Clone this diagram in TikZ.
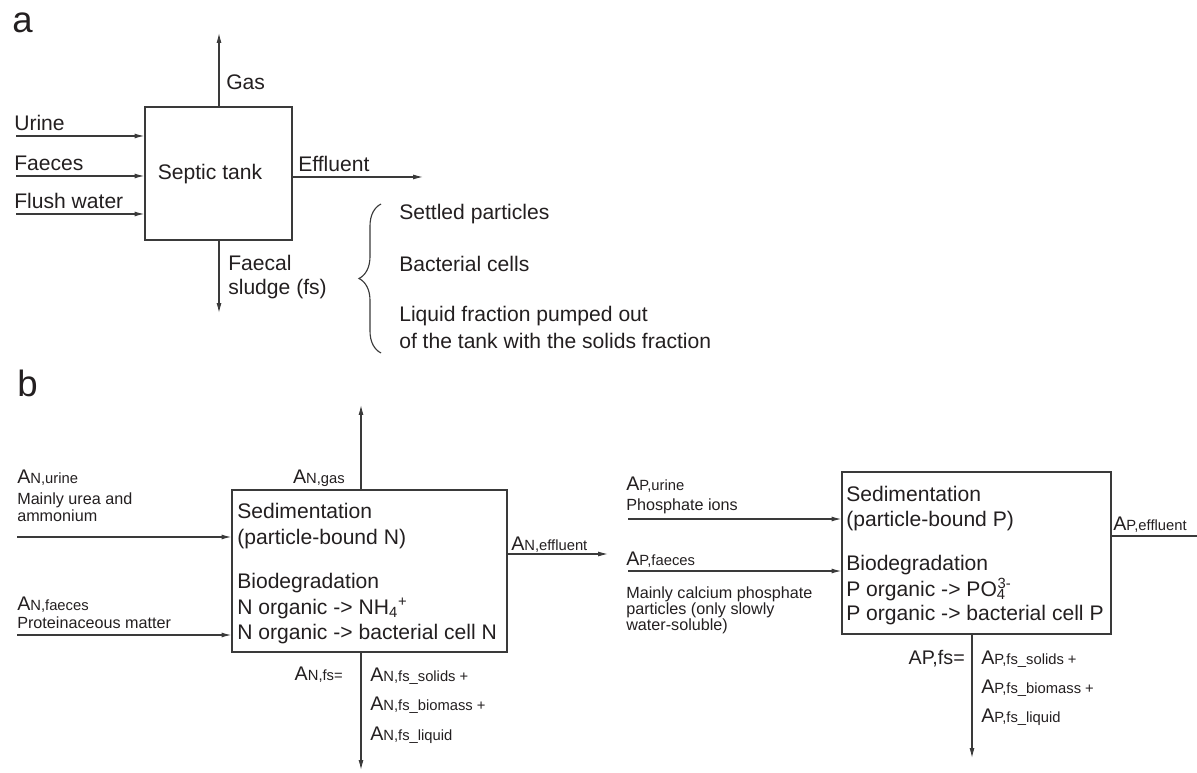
\documentclass[tikz,border=0pt]{standalone}
\usepackage{fontspec}
\setmainfont{Liberation Sans}
\usetikzlibrary{arrows.meta,decorations.pathreplacing}
\definecolor{ink}{HTML}{231F20}
\definecolor{wire}{HTML}{3A3A3A}
\newcommand{\Aflow}[1]{{\fontsize{14}{16}\selectfont A}{\fontsize{10.5}{12}\selectfont #1}}
\tikzset{
  lbl/.style={inner sep=0pt, anchor=base west, text=ink, font=\fontsize{15}{18}\selectfont},
  note/.style={lbl, font=\fontsize{11.5}{14}\selectfont},
  panel/.style={lbl, font=\fontsize{26}{30}\selectfont},
  tank/.style={draw=wire, line width=0.8pt, inner sep=0pt},
  flow/.style={draw=wire, line width=0.8pt, -{Latex[length=7pt,width=3.5pt]}},
}
\begin{document}
\begin{tikzpicture}[x=0.025cm, y=-0.025cm]
\useasboundingbox (0,0) rectangle (1197,773);

% panel a
\node[panel] (laba) at (12,33) {a};
\node[tank, minimum width=3.675cm, minimum height=3.325cm] (stank) at (218.5,173.5) {};
\node[lbl, anchor=base] (stanktxt) at (210,180) {Septic tank};

\coordinate (urinein)  at (16,136);
\coordinate (faecesin) at (16,176);
\coordinate (flushin)  at (16,214);
\coordinate (gasout)   at (219,33);
\coordinate (effout)   at (423,177);
\coordinate (fsout)    at (219,313);

\draw[flow] (urinein)  -- (urinein -| stank.west);
\draw[flow] (faecesin) -- (faecesin -| stank.west);
\draw[flow] (flushin)  -- (flushin -| stank.west);
\draw[flow] (gasout |- stank.north) -- (gasout);
\draw[flow] (effout -| stank.east) -- (effout);
\draw[flow] (fsout |- stank.south) -- (fsout);

\node[lbl] (urinelbl)  at (14,131) {Urine};
\node[lbl] (faeceslbl) at (14,171) {Faeces};
\node[lbl] (flushlbl)  at (14,209) {Flush water};
\node[lbl] (gaslbl)    at (226,90) {Gas};
\node[lbl] (efflbl)    at (298,172) {Effluent};
\node[lbl] (fslbl)     at (228,271) {Faecal};
\node[lbl] (fslbltwo)  at (228,295) {sludge (fs)};

\draw[wire, line width=0.8pt, decorate, decoration={brace, amplitude=0.55cm}]
  (381,353) -- (381,204);
\node[lbl] (settled)  at (399,220) {Settled particles};
\node[lbl] (bacteria) at (399,272) {Bacterial cells};
\node[lbl] (liquid)   at (399,322) {Liquid fraction pumped out};
\node[lbl] (liquidtwo) at (399,349) {of the tank with the solids fraction};

% panel b, nitrogen
\node[panel] (labb) at (17,397) {b};
\node[tank, minimum width=6.875cm, minimum height=4.05cm] (ntank) at (369.5,571) {};
\node[lbl] (nsed)   at (237,518) {Sedimentation};
\node[lbl] (nsedtwo) at (237,544) {(particle-bound N)};
\node[lbl] (nbio)   at (237,588) {Biodegradation};
\node[lbl] (nbiotwo) at (237,614) {N organic -> NH\textsubscript{4}\textsuperscript{+}};
\node[lbl] (nbiothree) at (237,639) {N organic -> bacterial cell N};

\coordinate (nurinein)  at (17,537);
\coordinate (nfaecesin) at (17,635);
\coordinate (ngasout)   at (361,405);
\coordinate (neffout)   at (608,554);
\coordinate (nfsout)    at (361,770);

\draw[flow] (nurinein)  -- (nurinein -| ntank.west);
\draw[flow] (nfaecesin) -- (nfaecesin -| ntank.west);
\draw[flow] (ngasout |- ntank.north) -- (ngasout);
\draw[flow] (neffout -| ntank.east) -- (neffout);
\draw[flow] (nfsout |- ntank.south) -- (nfsout);

\node[lbl] (nurinelbl) at (17,484) {\Aflow{N,urine}};
\node[note] (nurinenote) at (17,504) {Mainly urea and};
\node[note] (nurinenotetwo) at (17,521) {ammonium};
\node[lbl] (nfaeceslbl) at (17,610) {\Aflow{N,faeces}};
\node[note] (nfaecesnote) at (17,628) {Proteinaceous matter};
\node[lbl, anchor=base east] (ngaslbl) at (345,483) {\Aflow{N,gas}};
\node[lbl] (nefflbl) at (511,550) {\Aflow{N,effluent}};
\node[lbl, anchor=base east] (nfslbl) at (343,680) {\Aflow{N,fs=}};
\node[lbl] (nfssolids)  at (370,681) {\Aflow{N,fs\_solids +}};
\node[lbl] (nfsbiomass) at (370,710) {\Aflow{N,fs\_biomass +}};
\node[lbl] (nfsliquid)  at (370,740) {\Aflow{N,fs\_liquid}};

% panel b, phosphorus
\node[tank, minimum width=6.725cm, minimum height=4.05cm] (ptank) at (976.5,553) {};
\node[lbl] (psed)   at (846,501) {Sedimentation};
\node[lbl] (psedtwo) at (846,526) {(particle-bound P)};
\node[lbl] (pbio)   at (846,570) {Biodegradation};
\node[lbl] (pbiotwo) at (846,596) {P organic -> PO\textsubscript{\rlap{4}}\textsuperscript{3-}};
\node[lbl] (pbiothree) at (846,620) {P organic -> bacterial cell P};

\coordinate (purinein)  at (628,519);
\coordinate (pfaecesin) at (628,571);
\coordinate (peffout)   at (1197,536);
\coordinate (pfsout)    at (972,758);

\draw[flow] (purinein)  -- (purinein -| ptank.west);
\draw[flow] (pfaecesin) -- (pfaecesin -| ptank.west);
\draw[wire, line width=0.8pt] (peffout -| ptank.east) -- (peffout);
\draw[flow] (pfsout |- ptank.south) -- (pfsout);

\node[lbl] (purinelbl) at (626,490) {\Aflow{P,urine}};
\node[note] (purinenote) at (626,510) {Phosphate ions};
\node[lbl] (pfaeceslbl) at (626,565) {\Aflow{P,faeces}};
\node[note] (pfaecesnote) at (626,598) {Mainly calcium phosphate};
\node[note] (pfaecesnotetwo) at (626,614) {particles (only slowly};
\node[note] (pfaecesnotethree) at (626,630) {water-soluble)};
\node[lbl] (pefflbl) at (1113,530) {\Aflow{P,effluent}};
\node[lbl, anchor=base east, font=\fontsize{14}{16}\selectfont] (pfslbl) at (965,664) {AP,fs=};
\node[lbl] (pfssolids)  at (981,664) {\Aflow{P,fs\_solids +}};
\node[lbl] (pfsbiomass) at (981,693) {\Aflow{P,fs\_biomass +}};
\node[lbl] (pfsliquid)  at (981,722) {\Aflow{P,fs\_liquid}};
\end{tikzpicture}
\end{document}
